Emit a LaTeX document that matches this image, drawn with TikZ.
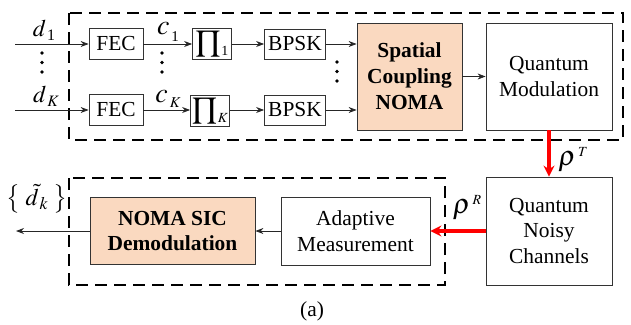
\documentclass[tikz,border=0pt]{standalone}
\usepackage{amsmath}
\usepackage{mathptmx}
\usepackage{fontspec}
\setmainfont{Liberation Serif}
\usetikzlibrary{arrows.meta}
\definecolor{peach}{RGB}{250,217,192}

\begin{document}
\begin{tikzpicture}[x=1bp,y=-1bp,font=\fontsize{21.5}{26}\selectfont,
  blk/.style={draw=black!80,line width=0.8bp,inner sep=0pt,align=center},
  hot/.style={blk,fill=peach,font=\fontsize{21.5}{26}\selectfont\bfseries},
  frame/.style={line width=2.2bp,dash pattern=on 12bp off 7bp},
  lnk/.style={-{Stealth[length=8bp,width=6bp]},line width=0.8bp,black!85},
  qlnk/.style={-{Stealth[length=11bp,width=11bp]},line width=3.5bp,red}]
\useasboundingbox (0,0) rectangle (631,324);
\draw[frame] (69,13) rectangle (623,140);
\draw[frame] (69,178) rectangle (445,285);
\node[blk,minimum width=54bp,minimum height=31bp] (fec1) at (116,44) {FEC};
\node[blk,minimum width=54bp,minimum height=31bp] (fecK) at (116,110) {FEC};
\node[blk,minimum width=39bp,minimum height=31bp] (pi1) at (212,44)
  {{\fontsize{30}{30}\selectfont$\prod$}\kern1bp\raisebox{-4bp}{\fontsize{14}{14}\selectfont 1}};
\node[blk,minimum width=39bp,minimum height=31bp] (piK) at (210,111)
  {{\fontsize{30}{30}\selectfont$\prod$}\kern1bp\raisebox{-4bp}{\fontsize{14}{14}\selectfont$K$}};
\node[blk,minimum width=61bp,minimum height=30bp] (bpsk1) at (295,44) {BPSK};
\node[blk,minimum width=61bp,minimum height=30bp] (bpskK) at (295,110) {BPSK};
\node[hot,minimum width=105bp,minimum height=107bp] (scn) at (409.5,76.5)
  {Spatial\\Coupling\\NOMA};
\node[blk,minimum width=126bp,minimum height=107bp] (qm) at (549,76.5)
  {Quantum\\Modulation};
\node[blk,minimum width=126bp,minimum height=108bp] (qnc) at (549,231)
  {Quantum\\Noisy\\Channels};
\node[blk,minimum width=149bp,minimum height=68bp] (am) at (355.5,231)
  {Adaptive\\Measurement};
\node[hot,minimum width=165bp,minimum height=67bp] (sic) at (172.5,231)
  {NOMA SIC\\Demodulation};
\coordinate (in1) at (15,44);
\coordinate (inK) at (15,110);
\coordinate (out) at (16,231);
\draw[lnk] (in1) -- (fec1);
\draw[lnk] (inK) -- (fecK);
\draw[lnk] (fec1) -- (pi1);
\draw[lnk] (fecK) -- (piK.west |- fecK);
\draw[lnk] (pi1) -- (bpsk1);
\draw[lnk] (piK.east |- bpskK) -- (bpskK);
\draw[lnk] (bpsk1) -- (bpsk1 -| scn.west);
\draw[lnk] (bpskK) -- (bpskK -| scn.west);
\draw[lnk] (scn) -- (qm);
\draw[qlnk] (qm) -- (qnc);
\draw[qlnk] (qnc) -- (am);
\draw[lnk] (am) -- (sic);
\draw[lnk] (sic) -- (out);
\node (d1) at (44,30) {{\fontsize{24}{24}\selectfont$d$}\kern1bp\raisebox{-4bp}{\fontsize{16}{16}\selectfont 1}};
\node (dK) at (46,96) {{\fontsize{24}{24}\selectfont$d$}\kern1bp\raisebox{-4bp}{\fontsize{16}{16}\selectfont$K$}};
\node (c1) at (168,32) {{\fontsize{28}{28}\selectfont$c$}\kern2bp\raisebox{-7bp}{\fontsize{15}{15}\selectfont 1}};
\node (cK) at (168,99) {{\fontsize{28}{28}\selectfont$c$}\kern2bp\raisebox{-5bp}{\fontsize{15}{15}\selectfont$K$}};
\node (rhoT) at (573,160) {{\fontsize{28}{28}\selectfont$\rho$}\kern2bp\raisebox{9bp}{\fontsize{14}{14}\selectfont$T$}};
\node (rhoR) at (467,208) {{\fontsize{28}{28}\selectfont$\rho$}\kern2bp\raisebox{9bp}{\fontsize{14}{14}\selectfont$R$}};
\node (dhat) at (37,199) {\fontsize{24}{24}\selectfont$\left\{\;\tilde{d}_{\,k}\;\right\}$};
\node (cap) at (312,311) {(a)};
\foreach \x/\y in {42/53,162/53,337/62} {
  \foreach \k in {0,9.5,19}
    \fill (\x,\y+\k) circle (1.8bp);
}
\end{tikzpicture}
\end{document}
